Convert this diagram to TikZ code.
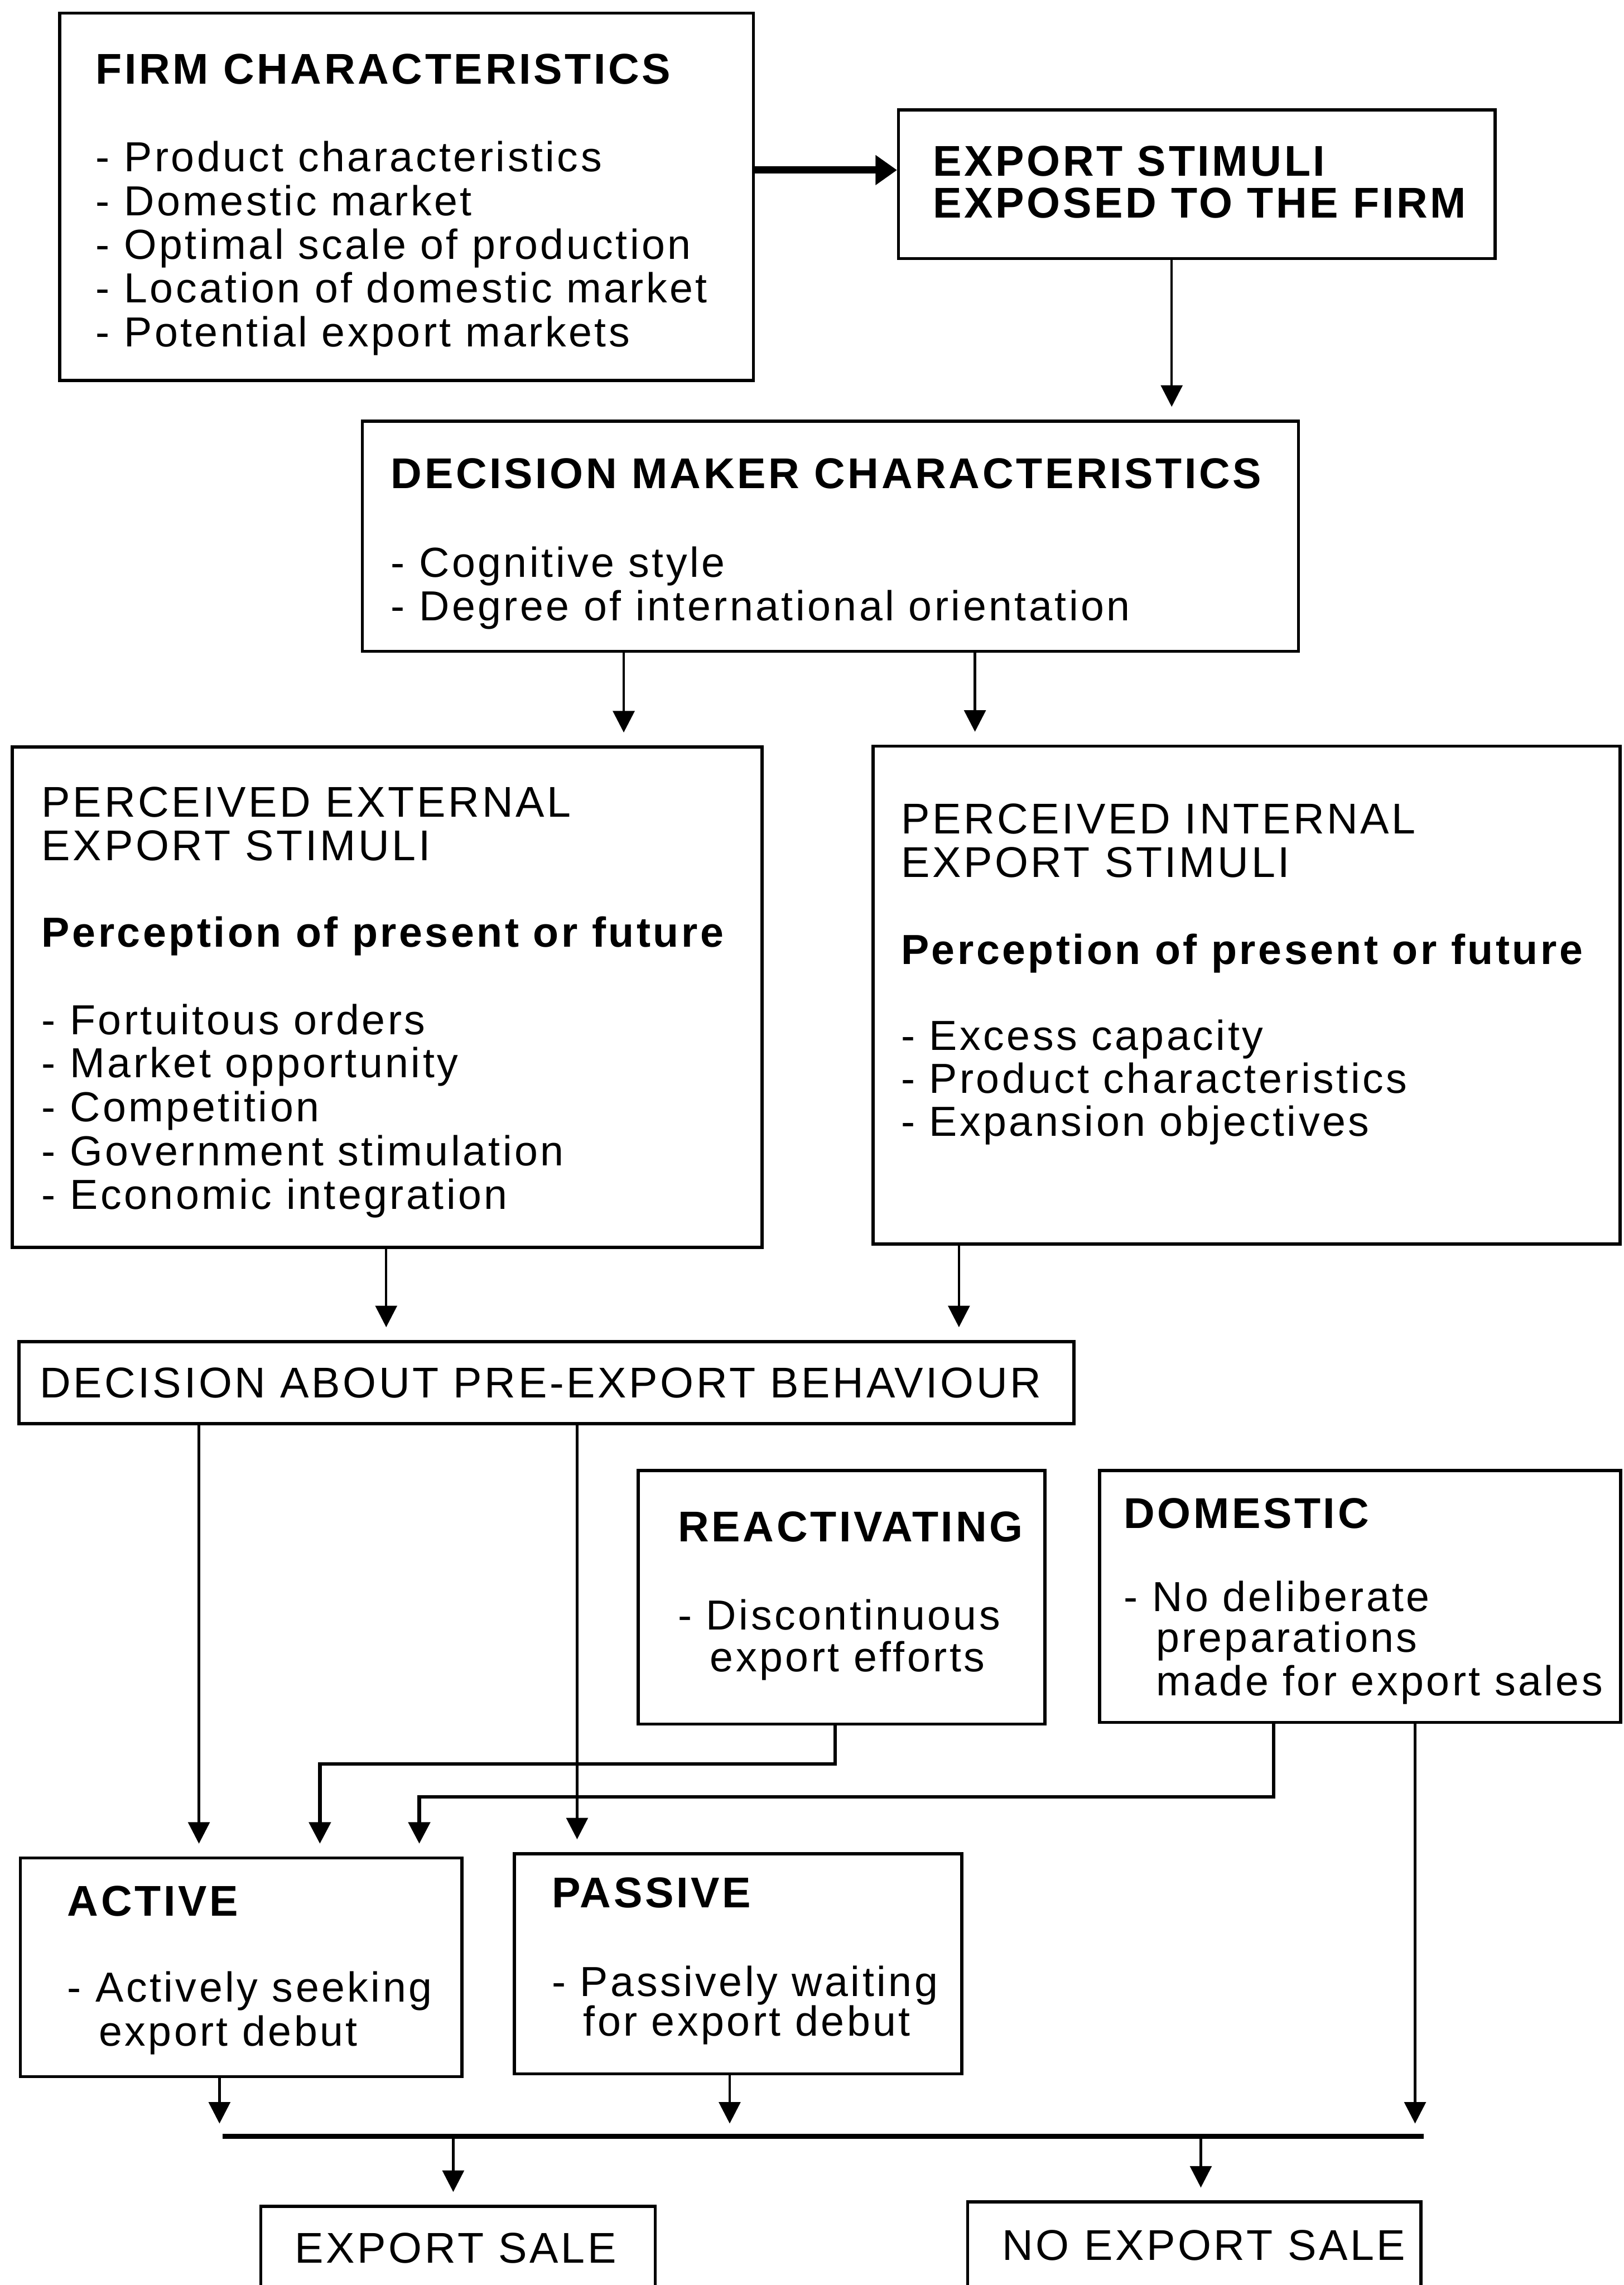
\documentclass[tikz,border=0pt]{standalone}
\usepackage{fontspec}
\setmainfont{Liberation Sans}[LetterSpace=6]
\usetikzlibrary{arrows.meta,fit}
\begin{document}
\begin{tikzpicture}[x=0.025cm,y=-0.025cm,
  box/.style={draw, line width=1.5pt, inner sep=0pt},
  ttl/.style={anchor=base west, inner sep=0pt, font=\fontsize{21}{22}\selectfont\bfseries},
  ttr/.style={anchor=base west, inner sep=0pt, font=\fontsize{21}{22}\selectfont},
  body/.style={anchor=base west, inner sep=0pt, font=\fontsize{20.5}{21.3}\selectfont},
  bodyb/.style={anchor=base west, inner sep=0pt, font=\fontsize{20.5}{21.3}\selectfont\bfseries},
  arr/.style={line width=1.2pt, -{Triangle[length=10.5pt,width=10.5pt]}, shorten >=0.22cm},
  arrm/.style={line width=1.8pt, -{Triangle[length=10.5pt,width=10.5pt]}, shorten >=0.22cm},
  arrthick/.style={line width=3.6pt, -{Triangle[length=10.5pt,width=14pt]}}
]
\useasboundingbox (0,0) rectangle (1114,1568);
\clip (0,0) rectangle (1114,1568);

% boxes
\node[box, fit={(41,9) (517,261)}] (firm) {};
\node[box, fit={(616.6,75.5) (1026,177.5)}] (stim) {};
\node[box, fit={(248.6,289) (891,447)}] (dm) {};
\node[box, fit={(8.5,512.5) (523,856)}] (ext) {};
\node[box, fit={(599,512) (1111.6,853.6)}] (int) {};
\node[box, fit={(13,920.6) (737,977)}] (dec) {};
\node[box, fit={(438,1009) (717,1183)}] (react) {};
\node[box, fit={(754.5,1009) (1112,1182)}] (dom) {};
\node[box, fit={(14,1275) (317,1425)}] (act) {};
\node[box, fit={(353,1272) (660,1423)}] (pas) {};
\node[box, fit={(179,1514) (449.6,1620)}] (sale) {};
\node[box, fit={(664,1511) (975,1620)}] (nosale) {};

% texts
\node[ttl] (firmT) at (65.5,57.5) {FIRM CHARACTERISTICS};
\node[body] (firm1) at (65.5,117.8) {- Product characteristics};
\node[body] (firm2) at (65.5,147.8) {- Domestic market};
\node[body] (firm3) at (65.5,177.8) {- Optimal scale of production};
\node[body] (firm4) at (65.5,207.8) {- Location of domestic market};
\node[body] (firm5) at (65.5,237.8) {- Potential export markets};

\node[ttl] (stimT1) at (640,120.7) {EXPORT STIMULI};
\node[ttl] (stimT2) at (640,149.5) {EXPOSED TO THE FIRM};

\node[ttl] (dmT) at (268,335) {DECISION MAKER CHARACTERISTICS};
\node[body] (dm1) at (268,396) {- Cognitive style};
\node[body] (dm2) at (268,426) {- Degree of international orientation};

\node[ttr] (extT1) at (28.4,560.5) {PERCEIVED EXTERNAL};
\node[ttr] (extT2) at (28.4,590.4) {EXPORT STIMULI};
\node[bodyb] (extP) at (28.4,650) {Perception of present or future};
\node[body] (ext1) at (28.4,710) {- Fortuitous orders};
\node[body] (ext2) at (28.4,739.5) {- Market opportunity};
\node[body] (ext3) at (28.4,769.6) {- Competition};
\node[body] (ext4) at (28.4,799.7) {- Government stimulation};
\node[body] (ext5) at (28.4,829.6) {- Economic integration};

\node[ttr] (intT1) at (618,572) {PERCEIVED INTERNAL};
\node[ttr] (intT2) at (618,602) {EXPORT STIMULI};
\node[bodyb] (intP) at (618,661.8) {Perception of present or future};
\node[body] (int1) at (618,720.5) {- Excess capacity};
\node[body] (int2) at (618,750) {- Product characteristics};
\node[body] (int3) at (618,779.5) {- Expansion objectives};

\node[ttr] (decT) at (27,959) {DECISION ABOUT PRE-EXPORT BEHAVIOUR};

\node[ttl] (reactT) at (465,1058) {REACTIVATING};
\node[body] (react1) at (465,1118.4) {- Discontinuous};
\node[body] (react2) at (487,1147) {export efforts};

\node[ttl] (domT) at (770.8,1048.7) {DOMESTIC};
\node[body] (dom1) at (771,1105.7) {- No deliberate};
\node[body] (dom2) at (793,1133.5) {preparations};
\node[body] (dom3) at (793,1163.7) {made for export sales};

\node[ttl] (actT) at (46,1314.7) {ACTIVE};
\node[body] (act1) at (46,1373.8) {- Actively seeking};
\node[body] (act2) at (67.5,1404) {export debut};

\node[ttl] (pasT) at (378.5,1309) {PASSIVE};
\node[body] (pas1) at (378.5,1370) {- Passively waiting};
\node[body] (pas2) at (400,1397) {for export debut};

\node[ttr] (saleT) at (202,1553) {EXPORT SALE};
\node[ttr] (nosaleT) at (687.5,1551) {NO EXPORT SALE};

% connector helper coordinates
\coordinate (c1) at (0,116.7);
\coordinate (xs) at (804,0);
\coordinate (xa1) at (428,0);
\coordinate (xa2) at (669,0);
\coordinate (xb1) at (265,0);
\coordinate (xb2) at (658,0);
\coordinate (xd1) at (136.5,0);
\coordinate (xd2) at (396,0);
\coordinate (xr) at (573,0);
\coordinate (xr2) at (219.5,0);
\coordinate (xm) at (874,0);
\coordinate (xm2) at (287.7,0);
\coordinate (xn) at (971,0);
\coordinate (xq1) at (150.6,0);
\coordinate (xq2) at (500.7,0);
\coordinate (xe1) at (311,0);
\coordinate (xe2) at (824,0);
\coordinate (yr) at (0,1210.5);
\coordinate (ym) at (0,1233);
\coordinate (barL) at (152.6,1466);
\coordinate (barR) at (977,1466);

% connectors
\draw[arrthick] (firm.east |- c1) -- (stim.west |- c1);
\draw[arr] (xs |- stim.south) -- (xs |- dm.north);
\draw[arr] (xa1 |- dm.south) -- (xa1 |- ext.north);
\draw[arr] (xa2 |- dm.south) -- (xa2 |- int.north);
\draw[arr] (xb1 |- ext.south) -- (xb1 |- dec.north);
\draw[arr] (xb2 |- int.south) -- (xb2 |- dec.north);
\draw[arr] (xd1 |- dec.south) -- (xd1 |- act.north);
\draw[arr] (xd2 |- dec.south) -- (xd2 |- pas.north);
\draw[arrm] (xr |- react.south) -- (xr |- yr) -- (xr2 |- yr) -- (xr2 |- act.north);
\draw[arrm] (xm |- dom.south) -- (xm |- ym) -- (xm2 |- ym) -- (xm2 |- act.north);
\draw[line width=2.6pt] (barL) -- (barR);
\draw[arr] (xq1 |- act.south) -- (xq1 |- barL);
\draw[arr] (xq2 |- pas.south) -- (xq2 |- barL);
\draw[arr] (xn |- dom.south) -- (xn |- barL);
\draw[arr] (xe1 |- barL) -- (xe1 |- sale.north);
\draw[arr] (xe2 |- barL) -- (xe2 |- nosale.north);
\end{tikzpicture}
\end{document}
